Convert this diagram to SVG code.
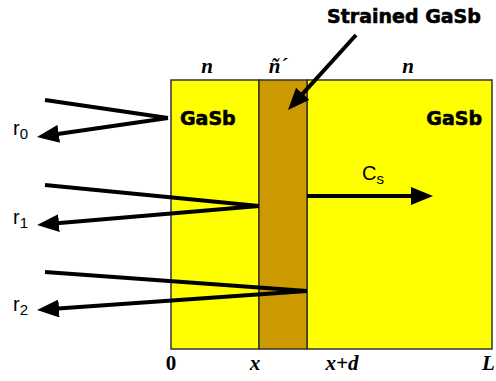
<svg xmlns="http://www.w3.org/2000/svg" width="496" height="381" viewBox="0 0 496 381">
<style>
.ray{stroke:#000;stroke-width:4;fill:none}
.arr{stroke:#000;stroke-width:4;fill:none;marker-end:url(#ah)}
.lbl{font-family:"DejaVu Sans",Verdana,sans-serif;font-weight:bold;font-size:19px;fill:#000;stroke:#000;stroke-width:0.6}
.it{font-family:"Liberation Serif","Times New Roman",serif;font-weight:bold;font-style:italic;font-size:21px;fill:#000}
.r{font-family:"Liberation Sans",Arial,sans-serif;font-size:20px;fill:#000}
.sub{font-size:15px}
</style>
<defs>
<marker id="ah" markerUnits="userSpaceOnUse" markerWidth="22" markerHeight="18" refX="8" refY="9" orient="auto">
<path d="M0,0 L22,9 L0,18 z" fill="#000"/>
</marker>
</defs>
<g id="left-gasb">
<rect x="171" y="80" width="88" height="269" fill="#ffff00" stroke="#333" stroke-width="1.5"/>
<text class="lbl" x="180" y="125">GaSb</text>
<text class="it" x="207" y="73" text-anchor="middle">n</text>
</g>
<g id="right-gasb">
<rect x="307" y="80" width="185" height="269" fill="#ffff00" stroke="#333" stroke-width="1.5"/>
<text class="lbl" x="482" y="125" text-anchor="end">GaSb</text>
<text class="it" x="408" y="73" text-anchor="middle">n</text>
</g>
<g id="strained-layer">
<rect x="259" y="80" width="48" height="269" fill="#cc9900" stroke="#333" stroke-width="1.5"/>
<text class="it" x="278" y="73" text-anchor="middle">ñ´</text>
</g>
<g id="strained-label">
<text class="lbl" x="404" y="23" text-anchor="middle">Strained GaSb</text>
</g>
<g id="axis-labels">
<text class="it" x="171" y="370" text-anchor="middle" style="font-style:normal">0</text>
<text class="it" x="255" y="370" text-anchor="middle">x</text>
<text class="it" x="342" y="370" text-anchor="middle">x+d</text>
<text class="it" x="482" y="370">L</text>
</g>
<g id="ray-labels">
<text class="r" x="13" y="135">r<tspan class="sub" dy="4">0</tspan></text>
<text class="r" x="13" y="224">r<tspan class="sub" dy="4">1</tspan></text>
<text class="r" x="13" y="311">r<tspan class="sub" dy="4">2</tspan></text>
<text class="r" x="362" y="180">C<tspan class="sub" dy="4">s</tspan></text>
</g>
<g id="connectors">
<polyline class="ray" points="45,100 168,118"/>
<line class="arr" x1="168" y1="118" x2="50.8" y2="135"/>
<polyline class="ray" points="45,185 259,206"/>
<line class="arr" x1="259" y1="206" x2="51" y2="223.8"/>
<polyline class="ray" points="45,272 307,291"/>
<line class="arr" x1="307" y1="291" x2="51" y2="309"/>
<line class="arr" x1="307" y1="196" x2="419" y2="196"/>
<line class="arr" x1="356" y1="35" x2="297.4" y2="99.6"/>
</g>
</svg>
